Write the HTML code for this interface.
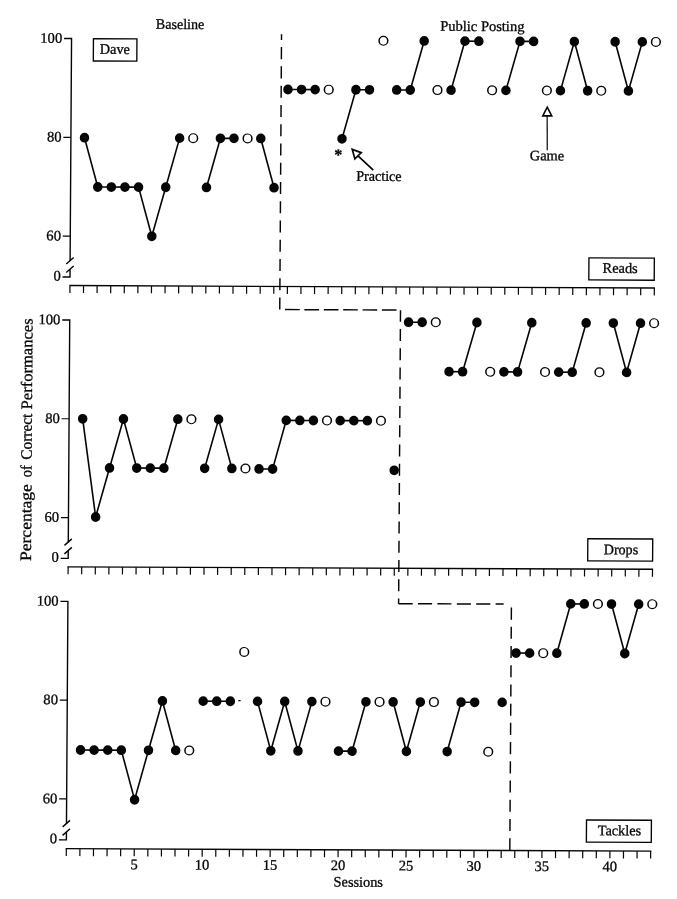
<!DOCTYPE html>
<html><head><meta charset="utf-8"><title>Figure</title>
<style>
html,body{margin:0;padding:0;background:#fff}
body{width:677px;height:899px;overflow:hidden}
svg{display:block;filter:grayscale(1)}
text{font-family:"Liberation Serif",serif;fill:#050505;stroke:#050505;stroke-width:0.3}
.ax{stroke:#050505;stroke-width:1.4;fill:none}
.tk{stroke:#050505;stroke-width:1.2;fill:none}
.ln{stroke:#050505;stroke-width:1.6;fill:none}
.pt{fill:#050505}
.op{fill:#fff;stroke:#050505;stroke-width:1.3}
.ds{stroke:#050505;stroke-width:1.45;fill:none}
.bx{fill:#fff;stroke:#050505;stroke-width:1.35}
</style></head><body>
<svg width="677" height="899" viewBox="0 0 677 899">
<rect width="677" height="899" fill="#fff"/>
<g transform="matrix(1 0.0042 -0.00646 1 2.9038 -1.4217)">
<!-- panel 0 axes -->
<path class="ax" d="M61.4 39.7H68.9V262.2"/>
<path class="tk" d="M61.4 138.5H68.9"/>
<path class="tk" d="M61.4 237.3H68.9"/>
<path class="ax" d="M65.1 265.2L72.4 258.7M65.1 273.7L72.5 267.1M68.9 270.7V278.2H61.4"/>
<path class="ax" d="M68.3 286.7H653.87"/>
<path class="tk" d="M68.90 286.7v7.4M82.49 286.7v7.4M96.08 286.7v7.4M109.67 286.7v7.4M123.26 286.7v7.4M136.85 286.7v7.4M150.44 286.7v7.4M164.03 286.7v7.4M177.62 286.7v7.4M191.21 286.7v7.4M204.80 286.7v7.4M218.39 286.7v7.4M231.98 286.7v7.4M245.57 286.7v7.4M259.16 286.7v7.4M272.75 286.7v7.4M286.34 286.7v7.4M299.93 286.7v7.4M313.52 286.7v7.4M327.11 286.7v7.4M340.70 286.7v7.4M354.29 286.7v7.4M367.88 286.7v7.4M381.47 286.7v7.4M395.06 286.7v7.4M408.65 286.7v7.4M422.24 286.7v7.4M435.83 286.7v7.4M449.42 286.7v7.4M463.01 286.7v7.4M476.60 286.7v7.4M490.19 286.7v7.4M503.78 286.7v7.4M517.37 286.7v7.4M530.96 286.7v7.4M544.55 286.7v7.4M558.14 286.7v7.4M571.73 286.7v7.4M585.32 286.7v7.4M598.91 286.7v7.4M612.50 286.7v7.4M626.09 286.7v7.4M639.68 286.7v7.4M653.27 286.7v7.4"/>
<text x="59.6" y="44.0" font-size="14.6" text-anchor="end">100</text>
<text x="59.6" y="142.8" font-size="14.6" text-anchor="end">80</text>
<text x="59.6" y="241.6" font-size="14.6" text-anchor="end">60</text>
<text x="59.6" y="281.6" font-size="14.6" text-anchor="end">0</text>
<!-- panel 1 axes -->
<path class="ax" d="M61.4 321.1H68.9V543.5"/>
<path class="tk" d="M61.4 419.9H68.9"/>
<path class="tk" d="M61.4 518.7H68.9"/>
<path class="ax" d="M65.1 546.5L72.4 540.0M65.1 555.0L72.5 548.5M68.9 552.0V559.5H61.4"/>
<path class="ax" d="M68.3 568.0H653.87"/>
<path class="tk" d="M68.90 568.0v7.4M82.49 568.0v7.4M96.08 568.0v7.4M109.67 568.0v7.4M123.26 568.0v7.4M136.85 568.0v7.4M150.44 568.0v7.4M164.03 568.0v7.4M177.62 568.0v7.4M191.21 568.0v7.4M204.80 568.0v7.4M218.39 568.0v7.4M231.98 568.0v7.4M245.57 568.0v7.4M259.16 568.0v7.4M272.75 568.0v7.4M286.34 568.0v7.4M299.93 568.0v7.4M313.52 568.0v7.4M327.11 568.0v7.4M340.70 568.0v7.4M354.29 568.0v7.4M367.88 568.0v7.4M381.47 568.0v7.4M395.06 568.0v7.4M408.65 568.0v7.4M422.24 568.0v7.4M435.83 568.0v7.4M449.42 568.0v7.4M463.01 568.0v7.4M476.60 568.0v7.4M490.19 568.0v7.4M503.78 568.0v7.4M517.37 568.0v7.4M530.96 568.0v7.4M544.55 568.0v7.4M558.14 568.0v7.4M571.73 568.0v7.4M585.32 568.0v7.4M598.91 568.0v7.4M612.50 568.0v7.4M626.09 568.0v7.4M639.68 568.0v7.4M653.27 568.0v7.4"/>
<text x="59.6" y="325.4" font-size="14.6" text-anchor="end">100</text>
<text x="59.6" y="424.2" font-size="14.6" text-anchor="end">80</text>
<text x="59.6" y="523.0" font-size="14.6" text-anchor="end">60</text>
<text x="59.6" y="562.9" font-size="14.6" text-anchor="end">0</text>
<!-- panel 2 axes -->
<path class="ax" d="M61.4 602.5H68.9V825.0"/>
<path class="tk" d="M61.4 701.2H68.9"/>
<path class="tk" d="M61.4 800.1H68.9"/>
<path class="ax" d="M65.1 828.0L72.4 821.5M65.1 836.5L72.5 829.9M68.9 833.5V841.0H61.4"/>
<path class="ax" d="M68.3 849.8H653.87"/>
<path class="tk" d="M68.90 849.8v7.4M82.49 849.8v7.4M96.08 849.8v7.4M109.67 849.8v7.4M123.26 849.8v7.4M136.85 849.8v7.4M150.44 849.8v7.4M164.03 849.8v7.4M177.62 849.8v7.4M191.21 849.8v7.4M204.80 849.8v7.4M218.39 849.8v7.4M231.98 849.8v7.4M245.57 849.8v7.4M259.16 849.8v7.4M272.75 849.8v7.4M286.34 849.8v7.4M299.93 849.8v7.4M313.52 849.8v7.4M327.11 849.8v7.4M340.70 849.8v7.4M354.29 849.8v7.4M367.88 849.8v7.4M381.47 849.8v7.4M395.06 849.8v7.4M408.65 849.8v7.4M422.24 849.8v7.4M435.83 849.8v7.4M449.42 849.8v7.4M463.01 849.8v7.4M476.60 849.8v7.4M490.19 849.8v7.4M503.78 849.8v7.4M517.37 849.8v7.4M530.96 849.8v7.4M544.55 849.8v7.4M558.14 849.8v7.4M571.73 849.8v7.4M585.32 849.8v7.4M598.91 849.8v7.4M612.50 849.8v7.4M626.09 849.8v7.4M639.68 849.8v7.4M653.27 849.8v7.4"/>
<text x="59.6" y="606.8" font-size="14.6" text-anchor="end">100</text>
<text x="59.6" y="705.5" font-size="14.6" text-anchor="end">80</text>
<text x="59.6" y="804.4" font-size="14.6" text-anchor="end">60</text>
<text x="59.6" y="844.4" font-size="14.6" text-anchor="end">0</text>
<!-- phase line -->
<path class="ds" stroke-dasharray="12.1 7.16" stroke-dashoffset="6.3" d="M278.85 34.4V310.0"/>
<path class="ds" stroke-dasharray="14.7 4.67" d="M284.15 309.8H395.60"/>
<path class="ds" stroke-dasharray="12.0 7.25" stroke-dashoffset="0.5" d="M399.6 309.9V603.4"/>
<path class="ds" stroke-dasharray="14.1 5.3" d="M399.6 603.4H504.60"/>
<path class="ds" stroke-dasharray="12.1 7.12" d="M512.4 606.8V850.0"/>
<!-- panel 0 data -->
<path class="ln" d="M82.49 138.8L96.08 188.0L109.67 188.0L123.26 188.0L136.85 188.0L150.44 237.1L164.03 188.0L177.62 138.8"/>
<path class="ln" d="M204.80 188.0L218.39 138.8L231.98 138.8"/>
<path class="ln" d="M258.76 138.8L272.35 188.0"/>
<path class="ln" d="M285.64 89.7L299.23 89.7L312.82 89.7"/>
<path class="ln" d="M340.00 138.8L353.59 89.7L367.18 89.7"/>
<path class="ln" d="M394.36 89.7L407.95 89.7L421.54 40.6"/>
<path class="ln" d="M448.72 89.7L462.31 40.6L476.20 40.6"/>
<path class="ln" d="M503.58 89.7L517.37 40.6L530.96 40.6"/>
<path class="ln" d="M558.14 89.7L571.73 40.6L585.32 89.7"/>
<path class="ln" d="M612.50 40.6L626.09 89.7L639.68 40.6"/>
<ellipse class="pt" cx="82.49" cy="138.8" rx="4.75" ry="4.9"/>
<ellipse class="pt" cx="96.08" cy="188.0" rx="4.75" ry="4.9"/>
<ellipse class="pt" cx="109.67" cy="188.0" rx="4.75" ry="4.9"/>
<ellipse class="pt" cx="123.26" cy="188.0" rx="4.75" ry="4.9"/>
<ellipse class="pt" cx="136.85" cy="188.0" rx="4.75" ry="4.9"/>
<ellipse class="pt" cx="150.44" cy="237.1" rx="4.75" ry="4.9"/>
<ellipse class="pt" cx="164.03" cy="188.0" rx="4.75" ry="4.9"/>
<ellipse class="pt" cx="177.62" cy="138.8" rx="4.75" ry="4.9"/>
<ellipse class="pt" cx="204.80" cy="188.0" rx="4.75" ry="4.9"/>
<ellipse class="pt" cx="218.39" cy="138.8" rx="4.75" ry="4.9"/>
<ellipse class="pt" cx="231.98" cy="138.8" rx="4.75" ry="4.9"/>
<ellipse class="pt" cx="258.76" cy="138.8" rx="4.75" ry="4.9"/>
<ellipse class="pt" cx="272.35" cy="188.0" rx="4.75" ry="4.9"/>
<ellipse class="pt" cx="285.64" cy="89.7" rx="4.75" ry="4.9"/>
<ellipse class="pt" cx="299.23" cy="89.7" rx="4.75" ry="4.9"/>
<ellipse class="pt" cx="312.82" cy="89.7" rx="4.75" ry="4.9"/>
<ellipse class="pt" cx="340.00" cy="138.8" rx="4.75" ry="4.9"/>
<ellipse class="pt" cx="353.59" cy="89.7" rx="4.75" ry="4.9"/>
<ellipse class="pt" cx="367.18" cy="89.7" rx="4.75" ry="4.9"/>
<ellipse class="pt" cx="394.36" cy="89.7" rx="4.75" ry="4.9"/>
<ellipse class="pt" cx="407.95" cy="89.7" rx="4.75" ry="4.9"/>
<ellipse class="pt" cx="421.54" cy="40.6" rx="4.75" ry="4.9"/>
<ellipse class="pt" cx="448.72" cy="89.7" rx="4.75" ry="4.9"/>
<ellipse class="pt" cx="462.31" cy="40.6" rx="4.75" ry="4.9"/>
<ellipse class="pt" cx="476.20" cy="40.6" rx="4.75" ry="4.9"/>
<ellipse class="pt" cx="503.58" cy="89.7" rx="4.75" ry="4.9"/>
<ellipse class="pt" cx="517.37" cy="40.6" rx="4.75" ry="4.9"/>
<ellipse class="pt" cx="530.96" cy="40.6" rx="4.75" ry="4.9"/>
<ellipse class="pt" cx="558.14" cy="89.7" rx="4.75" ry="4.9"/>
<ellipse class="pt" cx="571.73" cy="40.6" rx="4.75" ry="4.9"/>
<ellipse class="pt" cx="585.32" cy="89.7" rx="4.75" ry="4.9"/>
<ellipse class="pt" cx="612.50" cy="40.6" rx="4.75" ry="4.9"/>
<ellipse class="pt" cx="626.09" cy="89.7" rx="4.75" ry="4.9"/>
<ellipse class="pt" cx="639.68" cy="40.6" rx="4.75" ry="4.9"/>
<ellipse cx="191.21" cy="138.8" rx="5.1" ry="5.0" fill="#050505"/><ellipse cx="191.21" cy="138.8" rx="3.6" ry="3.85" fill="#fff"/>
<ellipse cx="245.57" cy="138.8" rx="5.1" ry="5.0" fill="#050505"/><ellipse cx="245.57" cy="138.8" rx="3.6" ry="3.85" fill="#fff"/>
<ellipse cx="326.41" cy="89.7" rx="5.1" ry="5.0" fill="#050505"/><ellipse cx="326.41" cy="89.7" rx="3.6" ry="3.85" fill="#fff"/>
<ellipse cx="380.77" cy="40.6" rx="5.1" ry="5.0" fill="#050505"/><ellipse cx="380.77" cy="40.6" rx="3.6" ry="3.85" fill="#fff"/>
<ellipse cx="435.13" cy="89.7" rx="5.1" ry="5.0" fill="#050505"/><ellipse cx="435.13" cy="89.7" rx="3.6" ry="3.85" fill="#fff"/>
<ellipse cx="489.79" cy="89.7" rx="5.1" ry="5.0" fill="#050505"/><ellipse cx="489.79" cy="89.7" rx="3.6" ry="3.85" fill="#fff"/>
<ellipse cx="544.55" cy="89.7" rx="5.1" ry="5.0" fill="#050505"/><ellipse cx="544.55" cy="89.7" rx="3.6" ry="3.85" fill="#fff"/>
<ellipse cx="598.91" cy="89.7" rx="5.1" ry="5.0" fill="#050505"/><ellipse cx="598.91" cy="89.7" rx="3.6" ry="3.85" fill="#fff"/>
<ellipse cx="653.27" cy="40.6" rx="5.1" ry="5.0" fill="#050505"/><ellipse cx="653.27" cy="40.6" rx="3.6" ry="3.85" fill="#fff"/>
<!-- panel 1 data -->
<path class="ln" d="M82.49 419.9L96.08 518.0L109.67 468.9L123.26 419.9L136.85 468.9L150.44 468.9L164.03 468.9L177.62 419.9"/>
<path class="ln" d="M204.80 468.9L218.39 419.9L231.98 468.9"/>
<path class="ln" d="M259.16 469.3L272.75 469.3L286.04 420.6L299.63 420.6L313.22 420.6"/>
<path class="ln" d="M340.00 420.6L353.59 420.6L367.18 420.6"/>
<path class="ln" d="M407.75 321.9L421.34 321.9"/>
<path class="ln" d="M448.52 371.2L462.11 371.2L476.10 321.9"/>
<path class="ln" d="M503.38 371.2L517.07 371.2L530.96 321.9"/>
<path class="ln" d="M558.14 371.2L571.73 371.2L585.32 321.9"/>
<path class="ln" d="M612.50 321.9L626.09 371.2L639.68 321.9"/>
<ellipse class="pt" cx="82.49" cy="419.9" rx="4.75" ry="4.9"/>
<ellipse class="pt" cx="96.08" cy="518.0" rx="4.75" ry="4.9"/>
<ellipse class="pt" cx="109.67" cy="468.9" rx="4.75" ry="4.9"/>
<ellipse class="pt" cx="123.26" cy="419.9" rx="4.75" ry="4.9"/>
<ellipse class="pt" cx="136.85" cy="468.9" rx="4.75" ry="4.9"/>
<ellipse class="pt" cx="150.44" cy="468.9" rx="4.75" ry="4.9"/>
<ellipse class="pt" cx="164.03" cy="468.9" rx="4.75" ry="4.9"/>
<ellipse class="pt" cx="177.62" cy="419.9" rx="4.75" ry="4.9"/>
<ellipse class="pt" cx="204.80" cy="468.9" rx="4.75" ry="4.9"/>
<ellipse class="pt" cx="218.39" cy="419.9" rx="4.75" ry="4.9"/>
<ellipse class="pt" cx="231.98" cy="468.9" rx="4.75" ry="4.9"/>
<ellipse class="pt" cx="259.16" cy="469.3" rx="4.75" ry="4.9"/>
<ellipse class="pt" cx="272.75" cy="469.3" rx="4.75" ry="4.9"/>
<ellipse class="pt" cx="286.04" cy="420.6" rx="4.75" ry="4.9"/>
<ellipse class="pt" cx="299.63" cy="420.6" rx="4.75" ry="4.9"/>
<ellipse class="pt" cx="313.22" cy="420.6" rx="4.75" ry="4.9"/>
<ellipse class="pt" cx="340.00" cy="420.6" rx="4.75" ry="4.9"/>
<ellipse class="pt" cx="353.59" cy="420.6" rx="4.75" ry="4.9"/>
<ellipse class="pt" cx="367.18" cy="420.6" rx="4.75" ry="4.9"/>
<ellipse class="pt" cx="394.36" cy="470.1" rx="4.75" ry="4.9"/>
<ellipse class="pt" cx="407.75" cy="321.9" rx="4.75" ry="4.9"/>
<ellipse class="pt" cx="421.34" cy="321.9" rx="4.75" ry="4.9"/>
<ellipse class="pt" cx="448.52" cy="371.2" rx="4.75" ry="4.9"/>
<ellipse class="pt" cx="462.11" cy="371.2" rx="4.75" ry="4.9"/>
<ellipse class="pt" cx="476.10" cy="321.9" rx="4.75" ry="4.9"/>
<ellipse class="pt" cx="503.38" cy="371.2" rx="4.75" ry="4.9"/>
<ellipse class="pt" cx="517.07" cy="371.2" rx="4.75" ry="4.9"/>
<ellipse class="pt" cx="530.96" cy="321.9" rx="4.75" ry="4.9"/>
<ellipse class="pt" cx="558.14" cy="371.2" rx="4.75" ry="4.9"/>
<ellipse class="pt" cx="571.73" cy="371.2" rx="4.75" ry="4.9"/>
<ellipse class="pt" cx="585.32" cy="321.9" rx="4.75" ry="4.9"/>
<ellipse class="pt" cx="612.50" cy="321.9" rx="4.75" ry="4.9"/>
<ellipse class="pt" cx="626.09" cy="371.2" rx="4.75" ry="4.9"/>
<ellipse class="pt" cx="639.68" cy="321.9" rx="4.75" ry="4.9"/>
<ellipse cx="191.21" cy="419.9" rx="5.1" ry="5.0" fill="#050505"/><ellipse cx="191.21" cy="419.9" rx="3.6" ry="3.85" fill="#fff"/>
<ellipse cx="245.57" cy="468.9" rx="5.1" ry="5.0" fill="#050505"/><ellipse cx="245.57" cy="468.9" rx="3.6" ry="3.85" fill="#fff"/>
<ellipse cx="326.81" cy="420.6" rx="5.1" ry="5.0" fill="#050505"/><ellipse cx="326.81" cy="420.6" rx="3.6" ry="3.85" fill="#fff"/>
<ellipse cx="380.77" cy="420.6" rx="5.1" ry="5.0" fill="#050505"/><ellipse cx="380.77" cy="420.6" rx="3.6" ry="3.85" fill="#fff"/>
<ellipse cx="434.93" cy="321.9" rx="5.1" ry="5.0" fill="#050505"/><ellipse cx="434.93" cy="321.9" rx="3.6" ry="3.85" fill="#fff"/>
<ellipse cx="489.69" cy="371.2" rx="5.1" ry="5.0" fill="#050505"/><ellipse cx="489.69" cy="371.2" rx="3.6" ry="3.85" fill="#fff"/>
<ellipse cx="544.55" cy="371.2" rx="5.1" ry="5.0" fill="#050505"/><ellipse cx="544.55" cy="371.2" rx="3.6" ry="3.85" fill="#fff"/>
<ellipse cx="598.91" cy="371.2" rx="5.1" ry="5.0" fill="#050505"/><ellipse cx="598.91" cy="371.2" rx="3.6" ry="3.85" fill="#fff"/>
<ellipse cx="653.27" cy="321.9" rx="5.1" ry="5.0" fill="#050505"/><ellipse cx="653.27" cy="321.9" rx="3.6" ry="3.85" fill="#fff"/>
<!-- panel 2 data -->
<path class="ln" d="M82.49 751.1L96.08 751.1L109.67 751.1L123.26 751.1L136.85 800.6L150.44 751.1L164.03 701.7L177.62 751.1"/>
<path class="ln" d="M204.80 701.7L218.39 701.7L231.98 701.7"/>
<path class="ln" d="M259.16 701.7L272.75 751.1L286.34 701.7L299.93 751.1L313.52 701.7"/>
<path class="ln" d="M340.40 751.1L353.99 751.1L367.58 701.7"/>
<path class="ln" d="M394.76 701.7L408.35 751.1L421.94 701.7"/>
<path class="ln" d="M449.12 751.1L462.71 701.7L476.30 701.7"/>
<path class="ln" d="M517.37 652.3L530.96 652.3"/>
<path class="ln" d="M558.14 652.3L571.73 602.9L585.32 602.9"/>
<path class="ln" d="M612.50 602.9L626.09 652.3L639.68 602.9"/>
<ellipse class="pt" cx="82.49" cy="751.1" rx="4.75" ry="4.9"/>
<ellipse class="pt" cx="96.08" cy="751.1" rx="4.75" ry="4.9"/>
<ellipse class="pt" cx="109.67" cy="751.1" rx="4.75" ry="4.9"/>
<ellipse class="pt" cx="123.26" cy="751.1" rx="4.75" ry="4.9"/>
<ellipse class="pt" cx="136.85" cy="800.6" rx="4.75" ry="4.9"/>
<ellipse class="pt" cx="150.44" cy="751.1" rx="4.75" ry="4.9"/>
<ellipse class="pt" cx="164.03" cy="701.7" rx="4.75" ry="4.9"/>
<ellipse class="pt" cx="177.62" cy="751.1" rx="4.75" ry="4.9"/>
<ellipse class="pt" cx="204.80" cy="701.7" rx="4.75" ry="4.9"/>
<ellipse class="pt" cx="218.39" cy="701.7" rx="4.75" ry="4.9"/>
<ellipse class="pt" cx="231.98" cy="701.7" rx="4.75" ry="4.9"/>
<ellipse class="pt" cx="259.16" cy="701.7" rx="4.75" ry="4.9"/>
<ellipse class="pt" cx="272.75" cy="751.1" rx="4.75" ry="4.9"/>
<ellipse class="pt" cx="286.34" cy="701.7" rx="4.75" ry="4.9"/>
<ellipse class="pt" cx="299.93" cy="751.1" rx="4.75" ry="4.9"/>
<ellipse class="pt" cx="313.52" cy="701.7" rx="4.75" ry="4.9"/>
<ellipse class="pt" cx="340.40" cy="751.1" rx="4.75" ry="4.9"/>
<ellipse class="pt" cx="353.99" cy="751.1" rx="4.75" ry="4.9"/>
<ellipse class="pt" cx="367.58" cy="701.7" rx="4.75" ry="4.9"/>
<ellipse class="pt" cx="394.76" cy="701.7" rx="4.75" ry="4.9"/>
<ellipse class="pt" cx="408.35" cy="751.1" rx="4.75" ry="4.9"/>
<ellipse class="pt" cx="421.94" cy="701.7" rx="4.75" ry="4.9"/>
<ellipse class="pt" cx="449.12" cy="751.1" rx="4.75" ry="4.9"/>
<ellipse class="pt" cx="462.71" cy="701.7" rx="4.75" ry="4.9"/>
<ellipse class="pt" cx="476.30" cy="701.7" rx="4.75" ry="4.9"/>
<ellipse class="pt" cx="503.78" cy="701.7" rx="4.75" ry="4.9"/>
<ellipse class="pt" cx="517.37" cy="652.3" rx="4.75" ry="4.9"/>
<ellipse class="pt" cx="530.96" cy="652.3" rx="4.75" ry="4.9"/>
<ellipse class="pt" cx="558.14" cy="652.3" rx="4.75" ry="4.9"/>
<ellipse class="pt" cx="571.73" cy="602.9" rx="4.75" ry="4.9"/>
<ellipse class="pt" cx="585.32" cy="602.9" rx="4.75" ry="4.9"/>
<ellipse class="pt" cx="612.50" cy="602.9" rx="4.75" ry="4.9"/>
<ellipse class="pt" cx="626.09" cy="652.3" rx="4.75" ry="4.9"/>
<ellipse class="pt" cx="639.68" cy="602.9" rx="4.75" ry="4.9"/>
<ellipse cx="191.21" cy="751.1" rx="5.1" ry="5.0" fill="#050505"/><ellipse cx="191.21" cy="751.1" rx="3.6" ry="3.85" fill="#fff"/>
<ellipse cx="245.57" cy="652.3" rx="5.1" ry="5.0" fill="#050505"/><ellipse cx="245.57" cy="652.3" rx="3.6" ry="3.85" fill="#fff"/>
<ellipse cx="327.11" cy="701.7" rx="5.1" ry="5.0" fill="#050505"/><ellipse cx="327.11" cy="701.7" rx="3.6" ry="3.85" fill="#fff"/>
<ellipse cx="381.17" cy="701.7" rx="5.1" ry="5.0" fill="#050505"/><ellipse cx="381.17" cy="701.7" rx="3.6" ry="3.85" fill="#fff"/>
<ellipse cx="435.53" cy="701.7" rx="5.1" ry="5.0" fill="#050505"/><ellipse cx="435.53" cy="701.7" rx="3.6" ry="3.85" fill="#fff"/>
<ellipse cx="490.19" cy="751.1" rx="5.1" ry="5.0" fill="#050505"/><ellipse cx="490.19" cy="751.1" rx="3.6" ry="3.85" fill="#fff"/>
<ellipse cx="544.55" cy="652.3" rx="5.1" ry="5.0" fill="#050505"/><ellipse cx="544.55" cy="652.3" rx="3.6" ry="3.85" fill="#fff"/>
<ellipse cx="598.91" cy="602.9" rx="5.1" ry="5.0" fill="#050505"/><ellipse cx="598.91" cy="602.9" rx="3.6" ry="3.85" fill="#fff"/>
<ellipse cx="653.27" cy="602.9" rx="5.1" ry="5.0" fill="#050505"/><ellipse cx="653.27" cy="602.9" rx="3.6" ry="3.85" fill="#fff"/>
<path class="tk" d="M240.0 701.0h2.2"/>
<text x="136.85" y="870.1" font-size="14.5" text-anchor="middle">5</text>
<text x="204.80" y="870.1" font-size="14.5" text-anchor="middle">10</text>
<text x="272.75" y="870.1" font-size="14.5" text-anchor="middle">15</text>
<text x="340.70" y="870.1" font-size="14.5" text-anchor="middle">20</text>
<text x="408.65" y="870.1" font-size="14.5" text-anchor="middle">25</text>
<text x="476.60" y="870.1" font-size="14.5" text-anchor="middle">30</text>
<text x="544.55" y="870.1" font-size="14.5" text-anchor="middle">35</text>
<text x="612.50" y="870.1" font-size="14.5" text-anchor="middle">40</text>
<text x="361.1" y="886.6" font-size="14.5" text-anchor="middle" textLength="49.3" lengthAdjust="spacingAndGlyphs">Sessions</text>
<text x="177.3" y="29.6" font-size="14.5" text-anchor="middle" textLength="48.5" lengthAdjust="spacingAndGlyphs">Baseline</text>
<text x="479.6" y="30.4" font-size="14.5" text-anchor="middle" textLength="84.2" lengthAdjust="spacingAndGlyphs">Public Posting</text>
<rect class="bx" x="90.8" y="39.8" width="43.5" height="22.2"/>
<text x="112.3" y="54.8" font-size="14.5" text-anchor="middle" textLength="30.1" lengthAdjust="spacingAndGlyphs">Dave</text>
<rect class="bx" x="587.7" y="256.8" width="65.4" height="22.1"/>
<text x="619.0" y="271.7" font-size="14.5" text-anchor="middle" textLength="35.1" lengthAdjust="spacingAndGlyphs">Reads</text>
<rect class="bx" x="588.4" y="537.7" width="64.9" height="22.1"/>
<text x="621.6" y="553.1" font-size="14.5" text-anchor="middle" textLength="34.4" lengthAdjust="spacingAndGlyphs">Drops</text>
<rect class="bx" x="588.9" y="818.9" width="64.9" height="22.1"/>
<text x="621.9" y="834.1" font-size="14.5" text-anchor="middle" textLength="43.5" lengthAdjust="spacingAndGlyphs">Tackles</text>
<text x="336.3" y="160.0" font-size="16" font-weight="bold" text-anchor="middle">*</text>
<path class="ln" style="stroke-width:1.7" d="M350.3 149.3L359.3 152.6L353.0 158.8ZM356.1 155.7L371.5 170.1"/>
<text x="377.2" y="180.7" font-size="14.5" text-anchor="middle" textLength="45.4" lengthAdjust="spacingAndGlyphs">Practice</text>
<path class="ln" d="M545.0 106.3L549.6 115.0L540.6 115.0Z"/><path class="tk" d="M545.0 115.0L545.3 149.4"/>
<text x="545.1" y="159.5" font-size="14.5" text-anchor="middle" textLength="34.3" lengthAdjust="spacingAndGlyphs">Game</text>
<text transform="translate(31.7 562.3) rotate(-90)" font-size="16"><tspan x="0" textLength="76.9" lengthAdjust="spacingAndGlyphs">Percentage</tspan><tspan x="83.7" textLength="12.0" lengthAdjust="spacingAndGlyphs">of</tspan><tspan x="101.2" textLength="46.2" lengthAdjust="spacingAndGlyphs">Correct</tspan><tspan x="151.6" textLength="91.0" lengthAdjust="spacingAndGlyphs">Performances</tspan></text>
</g>
</svg>
</body></html>
